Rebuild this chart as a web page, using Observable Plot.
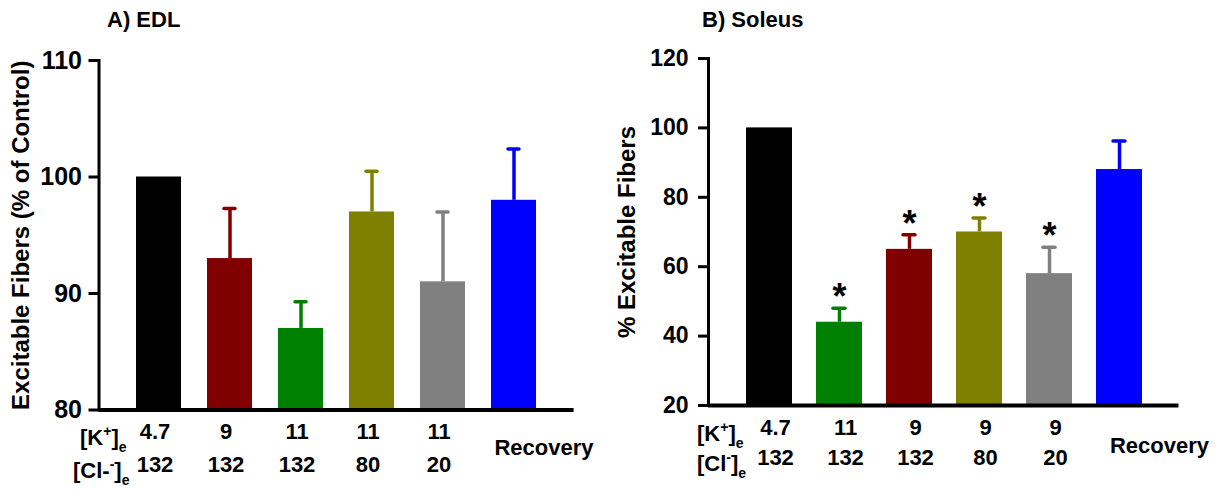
<!DOCTYPE html>
<html>
<head>
<meta charset="utf-8">
<script src="https://cdn.jsdelivr.net/npm/d3@7"></script>
<script src="https://cdn.jsdelivr.net/npm/@observablehq/plot@0.6"></script>
<style>
  html, body { margin: 0; padding: 0; background: #fff; }
  #wrap { position: relative; width: 1229px; height: 491px; font-family: "Liberation Sans", Arial, sans-serif; font-weight: bold; color: #000; }
  #wrap svg { position: absolute; top: 0; overflow: visible; }
  .lbl { position: absolute; white-space: nowrap; font-size: 22px; line-height: 22px; }
  .lbl sup { font-size: 14px; vertical-align: 9px; line-height: 0; }
  .lbl sub { font-size: 14px; vertical-align: -7px; line-height: 0; }
  .title { position: absolute; font-size: 22px; line-height: 22px; white-space: nowrap; }
</style>
</head>
<body>
<div id="wrap"></div>
<script>
// ---- Panel A: EDL ----
const titleA = "A) EDL";
const yLabelA = "Excitable Fibers (% of Control)";
const categoriesA = ["Control", "K9", "K11", "K11 Cl80", "K11 Cl20", "Recovery"];
const valuesA = [100, 93, 87, 97, 91, 98];
const semA = [0, 4.3, 2.3, 3.5, 6.0, 4.4];
const kA = ["4.7", "9", "11", "11", "11", ""];
const clA = ["132", "132", "132", "80", "20", ""];
const colorsA = ["#000000", "#800000", "#008000", "#808000", "#808080", "#0000ff"];
const sigA = [false, false, false, false, false, false];
const yTicksA = [80, 90, 100, 110];

// ---- Panel B: Soleus ----
const titleB = "B) Soleus";
const yLabelB = "% Excitable Fibers";
const categoriesB = ["Control", "K11", "K9", "K9 Cl80", "K9 Cl20", "Recovery"];
const valuesB = [100, 44, 65, 70, 58, 88];
const semB = [0, 4, 4.2, 4, 7.6, 8.2];
const kB = ["4.7", "11", "9", "9", "9", ""];
const clB = ["132", "132", "132", "80", "20", ""];
const colorsB = ["#000000", "#008000", "#800000", "#808000", "#808080", "#0000ff"];
const sigB = [false, true, true, true, true, false];
const yTicksB = [20, 40, 60, 80, 100, 120];

function panel(cfg) {
  const data = cfg.categories.map((c, i) => ({
    cat: c, value: cfg.values[i], sem: cfg.sem[i], k: cfg.k[i], cl: cfg.cl[i],
    color: cfg.colors[i], sig: cfg.sig[i]
  }));
  const ymin = cfg.yTicks[0], ymax = cfg.yTicks[cfg.yTicks.length - 1];
  const withErr = data.filter(d => d.sem > 0);
  const labeled = data.filter(d => d.k !== "");
  const unlabeled = data.filter(d => d.k === "");
  return Plot.plot({
    width: cfg.width,
    height: 491,
    marginLeft: cfg.ml, marginRight: cfg.mr, marginTop: cfg.mt, marginBottom: cfg.mb,
    style: { fontFamily: '"Liberation Sans", Arial, sans-serif', fontWeight: "bold", fontSize: "22px", color: "#000", background: "transparent" },
    x: { domain: cfg.categories, paddingInner: cfg.pi, paddingOuter: cfg.po, axis: null },
    y: { domain: [ymin, ymax], axis: null },
    marks: [
      Plot.barY(data, { x: "cat", y1: () => ymin, y2: "value", fill: "color" }),
      Plot.ruleX(withErr, { x: "cat", y1: "value", y2: d => d.value + d.sem, stroke: "color", strokeWidth: 3.5 }),
      Plot.tickY(withErr, { x: "cat", y: d => d.value + d.sem, stroke: "color", strokeWidth: 3.5, strokeLinecap: "round", insetLeft: 17, insetRight: 17 }),
      Plot.text(data.filter(d => d.sig), { x: "cat", y: d => d.value + d.sem, text: () => "*", fontSize: 36, fontWeight: "bold", lineAnchor: "bottom", dy: 1 }),
      Plot.ruleY([ymin], { stroke: "#000", strokeWidth: 4 }),
      Plot.frame({ anchor: "left", stroke: "#000", strokeWidth: 3 }),
      Plot.axisY({ ticks: cfg.yTicks, tickSize: 10, tickPadding: cfg.tp, strokeWidth: 3, tickFormat: d => String(d), label: null, fontSize: cfg.tickFont }),
      Plot.text([cfg.yLabel], { text: d => d, frameAnchor: "left", textAnchor: "middle", rotate: -90, dx: cfg.ylDx, fontSize: 24, fontWeight: "bold" }),
      Plot.text(labeled, { x: "cat", text: "k", frameAnchor: "bottom", dy: cfg.kDy, dx: cfg.numDx, fontSize: 22, fontWeight: "bold" }),
      Plot.text(labeled, { x: "cat", text: "cl", frameAnchor: "bottom", dy: cfg.clDy, dx: cfg.numDx, fontSize: 22, fontWeight: "bold" }),
      Plot.text(unlabeled, { x: "cat", text: "cat", frameAnchor: "bottom", dy: cfg.recDy, dx: cfg.recDx, fontSize: 22, fontWeight: "bold" })
    ]
  });
}

const wrap = document.getElementById("wrap");

const svgA = panel({
  categories: categoriesA, values: valuesA, sem: semA, k: kA, cl: clA, colors: colorsA, sig: sigA,
  yTicks: yTicksA, yLabel: yLabelA, tickFont: 25,
  width: 614, ml: 98.5, mr: 40.4, mt: 60, mb: 81.5, pi: 0.36, po: 0.49, tp: 7,
  ylDx: -78, kDy: 28.5, clDy: 61.5, numDx: -4, recDy: 44.5, recDx: 30
});
svgA.style.left = "0px";
wrap.appendChild(svgA);

const svgB = panel({
  categories: categoriesB, values: valuesB, sem: semB, k: kB, cl: clB, colors: colorsB, sig: sigB,
  yTicks: yTicksB, yLabel: yLabelB, tickFont: 23,
  width: 615, ml: 94, mr: 50.5, mt: 58, mb: 86, pi: 0.35, po: 0.51, tp: 10,
  ylDx: -81, kDy: 29, clDy: 59, numDx: 6, recDy: 47, recDx: 40
});
svgB.style.left = "614px";
wrap.appendChild(svgB);

function addDiv(cls, html, left, top) {
  const el = document.createElement("div");
  el.className = cls;
  el.innerHTML = html;
  el.style.left = left + "px";
  el.style.top = top + "px";
  wrap.appendChild(el);
}
addDiv("title", titleA, 107, 9);
addDiv("title", titleB, 702, 9);
addDiv("lbl", "[K<sup>+</sup>]<sub>e</sub>", 80, 427);
addDiv("lbl", "[Cl-<sup>-</sup>]<sub>e</sub>", 73, 460);
addDiv("lbl", "[K<sup>+</sup>]<sub>e</sub>", 697, 423);
addDiv("lbl", "[Cl<sup>-</sup>]<sub>e</sub>", 697, 453);
</script>
</body>
</html>
